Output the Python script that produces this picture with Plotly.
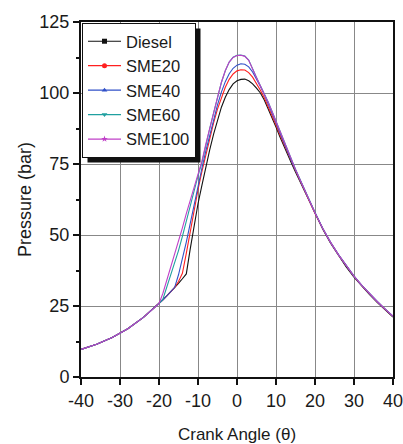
import plotly.graph_objects as go

angle = [-40, -36, -32, -28, -24,
         -20, -19, -18, -17, -16, -15, -14, -13, -12, -11, -10, -9, -8, -7, -6, -5, -4, -3, -2, -1,
         0, 1, 2, 3, 4, 5, 6, 7, 8, 9, 10, 11, 12, 13, 14, 15, 16, 17, 18, 19, 20,
         22, 24, 26, 28, 30, 32, 34, 36, 38, 40]

diesel = [9.7, 11.5, 13.9, 17.0, 21.0,
          25.8, 27.2, 28.6, 30.0, 31.5, 33.0, 34.6, 36.3, 45.0, 53.5, 61.0, 67.5, 74.0, 80.0, 85.5, 90.5, 95.0, 98.5, 101.2, 103.2,
          104.3, 104.8, 104.9, 104.3, 103.2, 101.7, 100.0, 97.5, 94.5, 91.3, 88.0, 84.6, 81.3, 78.2, 75.2, 72.2, 69.3, 66.3, 63.3, 60.3, 57.3,
          52.0, 47.1, 42.8, 38.8, 35.2, 32.0, 29.0, 26.2, 23.6, 21.1]

sme20 = [9.7, 11.5, 13.9, 17.0, 21.0,
         25.8, 27.2, 28.6, 30.0, 31.5, 33.6, 36.5, 43.5, 51.5, 59.0, 66.0, 72.3, 78.3, 84.0, 89.5, 94.3, 98.5, 102.0, 104.8, 106.7,
         107.8, 108.2, 108.1, 107.2, 105.6, 103.5, 101.0, 98.3, 95.3, 92.0, 88.7, 85.3, 82.0, 78.8, 75.7, 72.7, 69.7, 66.6, 63.6, 60.6, 57.6,
         52.2, 47.3, 43.0, 39.0, 35.4, 32.2, 29.2, 26.4, 23.8, 21.3]

sme40 = [9.7, 11.5, 13.9, 17.0, 21.0,
         25.8, 27.2, 28.6, 30.0, 31.5, 36.0, 41.5, 47.5, 54.0, 60.8, 67.3, 73.5, 79.5, 85.3, 90.8, 95.8, 100.3, 104.0, 106.8, 108.7,
         109.8, 110.3, 110.1, 109.2, 107.4, 105.0, 102.3, 99.5, 96.3, 93.0, 89.5, 86.0, 82.5, 79.2, 76.0, 72.9, 69.8, 66.8, 63.8, 60.8, 57.8,
         52.3, 47.4, 43.1, 39.1, 35.5, 32.3, 29.3, 26.5, 23.9, 21.4]

sme60 = [9.7, 11.5, 13.9, 17.0, 21.0,
         25.8, 27.4, 31.5, 35.8, 40.0, 44.5, 49.5, 55.0, 60.5, 65.8, 70.8, 75.5, 81.8, 87.5, 93.0, 98.3, 103.7, 107.8, 110.9, 112.6,
         113.3, 113.4, 113.0, 111.6, 108.8, 105.5, 102.6, 99.8, 96.8, 93.5, 90.0, 86.5, 83.0, 79.6, 76.4, 73.2, 70.1, 67.0, 64.0, 60.9, 57.9,
         52.3, 47.4, 43.1, 39.1, 35.5, 32.3, 29.3, 26.5, 23.9, 21.4]

sme100 = [9.7, 11.5, 13.9, 17.0, 21.0,
          25.8, 29.5, 34.0, 38.5, 43.0, 47.7, 52.5, 57.5, 62.3, 67.0, 71.5, 76.0, 82.0, 87.7, 93.2, 98.5, 103.8, 107.9, 110.9, 112.5,
          113.2, 113.3, 112.9, 111.5, 108.7, 105.4, 102.5, 99.7, 96.7, 93.4, 89.9, 86.4, 82.9, 79.5, 76.3, 73.1, 70.0, 66.9, 63.9, 60.8, 57.8,
          52.3, 47.4, 43.1, 39.1, 35.5, 32.3, 29.3, 26.5, 23.9, 21.4]

x_ticks = [-40, -30, -20, -10, 0, 10, 20, 30, 40]
x_ticktext = ["-40", "-30", "-20", "-10", "0", "10", "20", "30", "40"]
y_ticks = [0, 25, 50, 75, 100, 125]

names = ["Diesel", "SME20", "SME40", "SME60", "SME100"]
series = [diesel, sme20, sme40, sme60, sme100]
colors = ["#111111", "#ff2020", "#3050c8", "#20a0a0", "#c040c8"]
symbols = ["square", "circle", "triangle-up", "triangle-down", "star"]

fig = go.Figure()
for nm, ys, c in zip(names, series, colors):
    fig.add_trace(go.Scatter(x=angle, y=ys, mode="lines", name=nm,
                             line=dict(color=c, width=1.1), showlegend=False))
for nm, c, s in zip(names, colors, symbols):
    fig.add_trace(go.Scatter(x=[None], y=[None], mode="lines+markers", name=nm,
                             line=dict(color=c, width=1.2),
                             marker=dict(color=c, size=5, symbol=s), showlegend=True))

L, R, T, B = 81, 10, 22, 67
W, H = 403, 444
pw, ph = W - L - R, H - T - B

def px_x(p):
    return (p - L) / pw

def px_y(p):
    return (H - B - p) / ph

fig.update_layout(
    width=W, height=H,
    margin=dict(l=L, r=R, t=T, b=B),
    plot_bgcolor="white", paper_bgcolor="white",
    font=dict(family="Liberation Sans, Arial, sans-serif", size=18, color="#1a1a1a"),
    legend=dict(x=px_x(82), y=px_y(23), xanchor="left", yanchor="top",
                bgcolor="white", bordercolor="#111111", borderwidth=1,
                font=dict(size=16.5), tracegroupgap=0, itemwidth=33),
    xaxis=dict(range=[-40, 40], tickmode="array", tickvals=x_ticks, ticktext=x_ticktext,
               showline=True, linecolor="#111111", automargin=False, ticklabeloverflow="allow",
               linewidth=2, mirror=True, ticks="outside", ticklen=6, tickwidth=1.5,
               tickcolor="#111111", showgrid=True, gridcolor="#888888", gridwidth=1,
               zeroline=False, title=dict(text="Crank Angle (θ)", standoff=21, font=dict(size=17))),
    yaxis=dict(range=[0, 125], tickmode="array", tickvals=y_ticks, showline=True,
               linecolor="#111111", automargin=False, ticklabeloverflow="allow",
               linewidth=2, mirror=True, ticks="outside", ticklen=6, tickwidth=1.5,
               tickcolor="#111111", showgrid=True, gridcolor="#888888", gridwidth=1,
               zeroline=False,
               minor=dict(tickmode="linear", tick0=0, dtick=12.5, ticks="outside", ticklen=3,
                          tickcolor="#111111", showgrid=False),
               title=dict(text="Pressure (bar)", standoff=3, font=dict(size=18))),
)

# legend drop shadow: sized from the rendered legend box
shadow_js = """
var gd = document.getElementsByClassName('plotly-graph-div')[0];
function addShadow() {
  var bg = gd.querySelector('.legend .bg');
  if (!bg) return;
  var r = bg.getBoundingClientRect();
  var g = gd.getBoundingClientRect();
  var L = %d, T = %d, PW = %d, PH = %d, off = 5;
  var x0 = (r.left - g.left + off - L) / PW, x1 = (r.right - g.left + off - L) / PW;
  var y0 = (T + PH - (r.bottom - g.top + off)) / PH, y1 = (T + PH - (r.top - g.top + off)) / PH;
  Plotly.relayout(gd, {shapes: [{type: 'rect', xref: 'paper', yref: 'paper', x0: x0, x1: x1,
    y0: y0, y1: y1, fillcolor: '#111111', line: {width: 0}, layer: 'above'}]});
}
document.body.style.margin = '0';
document.body.style.overflow = 'hidden';
addShadow();
""" % (L, T, pw, ph)

fig.write_html("out.html", config={"displayModeBar": False}, post_script=shadow_js)
